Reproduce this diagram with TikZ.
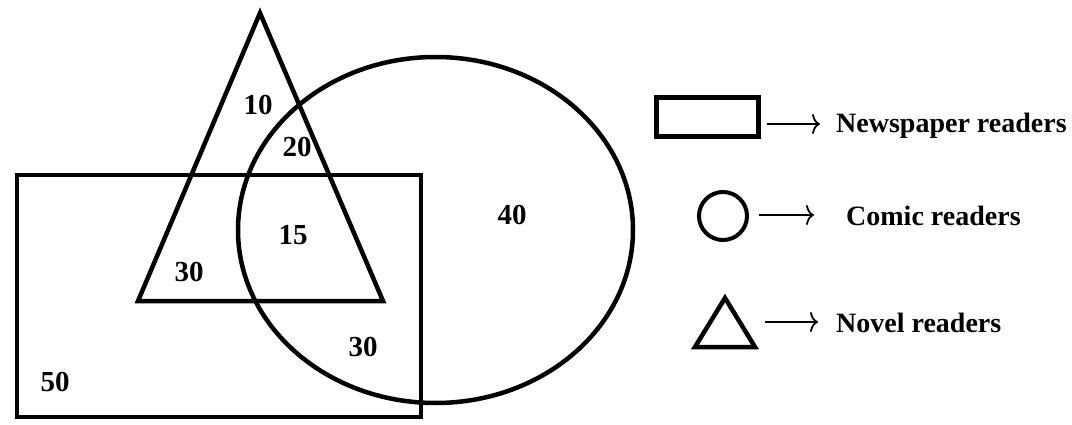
\documentclass[tikz,border=0pt]{standalone}
\usepackage{fontspec}
\setmainfont{Liberation Serif}
\usetikzlibrary{arrows.meta}
\begin{document}
\begin{tikzpicture}[x=1pt,y=-1pt,
  shape line/.style={draw=black,line width=4.5pt,line join=miter},
  num/.style={font=\fontsize{29}{31}\selectfont\bfseries,inner sep=0pt},
  lbl/.style={font=\fontsize{28}{30}\selectfont\bfseries,inner sep=0pt,anchor=west},
  arr/.style={line width=1.8pt,-{To[length=8pt,width=20pt]}}]
\useasboundingbox (0,0) rectangle (1072,425);
% main Venn shapes
\draw[shape line] (17,175) rectangle (421,417);
\draw[shape line] (435.5,230) ellipse [x radius=197.5,y radius=173];
\draw[shape line] (260,13) -- (383,301) -- (138,301) -- cycle;
% region numbers
\node[num] (n10) at (258,105) {10};
\node[num] (n20) at (297,147) {20};
\node[num] (n15) at (293,235) {15};
\node[num] (n40) at (512,215) {40};
\node[num] (n30a) at (189,272) {30};
\node[num] (n30b) at (363,347) {30};
\node[num] (n50) at (55,382) {50};
% legend
\draw[line width=5pt] (656,98) rectangle (758,137);
\coordinate (r1) at (767,124);
\coordinate (r2) at (820,124);
\draw[arr] (r1) -- (r2);
\node[lbl] (tnews) at (836,126) {Newspaper readers};

\draw[line width=4pt] (723,216) circle [radius=24];
\coordinate (c1) at (759,215);
\coordinate (c2) at (814,215);
\draw[arr] (c1) -- (c2);
\node[lbl] (tcomic) at (846,216) {Comic readers};

\draw[line width=4.5pt,line join=miter] (725,298) -- (755,347) -- (695,347) -- cycle;
\coordinate (t1) at (765,322);
\coordinate (t2) at (818,322);
\draw[arr] (t1) -- (t2);
\node[lbl] (tnovel) at (836,323) {Novel readers};
\end{tikzpicture}
\end{document}
